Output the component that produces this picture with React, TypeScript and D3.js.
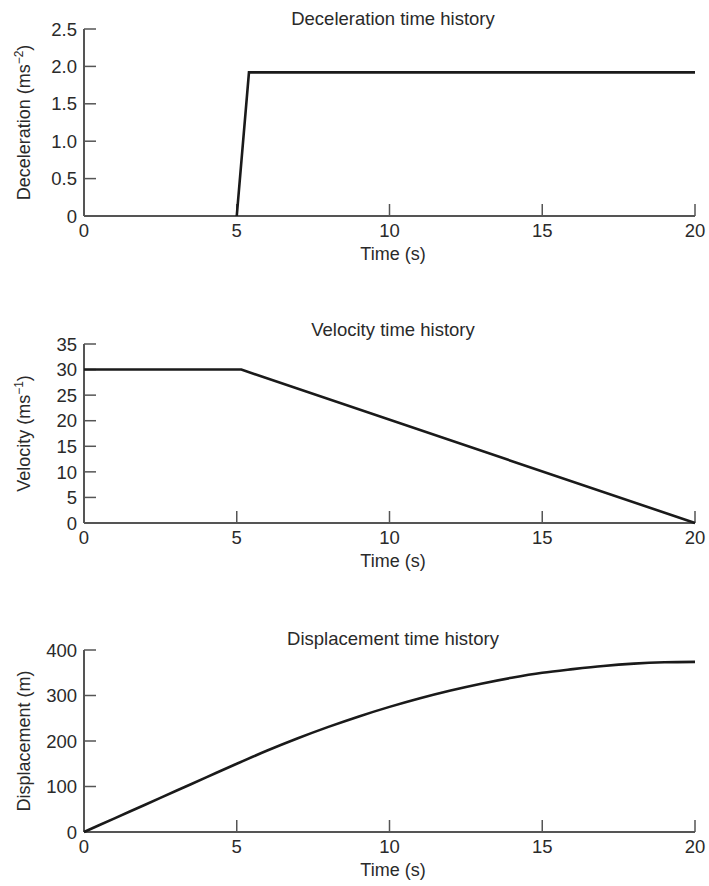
import React from "react";
import * as d3 from "d3";

const timeTicks = [0, 5, 10, 15, 20];

const decelTime = [5.0, 5.4, 20];
const decelValues = [0, 1.92, 1.92];
const decelTicks = [0, 0.5, 1.0, 1.5, 2.0, 2.5];
const decelTickLabels = ["0", "0.5", "1.0", "1.5", "2.0", "2.5"];

const velTime = [0, 5.15, 20];
const velValues = [30, 30, 0];
const velTicks = [0, 5, 10, 15, 20, 25, 30, 35];
const velTickLabels = ["0", "5", "10", "15", "20", "25", "30", "35"];

const dispTime = [0, 1, 2, 3, 4, 5, 6, 7, 8, 9, 10, 11, 12, 13, 14, 15, 16, 17, 18, 19, 20];
const dispValues = [0, 30, 60, 90, 120, 150, 179, 206, 231, 254, 275, 294, 311, 326, 339, 350, 358, 365, 370, 373, 374];
const dispTicks = [0, 100, 200, 300, 400];
const dispTickLabels = ["0", "100", "200", "300", "400"];

const FONT = "'Liberation Sans', Arial, Helvetica, sans-serif";
const TEXT = "#2a2a2a";
const AXIS = "#555";

type PanelProps = {
  title: string;
  yLabel: React.ReactNode;
  t: number[];
  v: number[];
  yTicks: number[];
  yTickLabels: string[];
  yMax: number;
  y0: number;
  y1: number;
  titleY: number;
  curve?: d3.CurveFactory;
};

const x = d3.scaleLinear().domain([0, 20]).range([84, 695]);

function Panel(p: PanelProps) {
  const y = d3.scaleLinear().domain([0, p.yMax]).range([p.y0, p.y1]);
  const pts: [number, number][] = p.t.map((tt, i) => [tt, p.v[i]]);
  const line = d3
    .line<[number, number]>()
    .x((d) => x(d[0]))
    .y((d) => y(d[1]))
    .curve(p.curve || d3.curveLinear);
  const cx = 393;
  const midY = (p.y0 + p.y1) / 2;
  return (
    <g>
      <text x={cx} y={p.titleY} textAnchor="middle" fontSize={18.5} fill={TEXT} fontFamily={FONT}>
        {p.title}
      </text>
      <line x1={x(0)} x2={x(20)} y1={y(0)} y2={y(0)} stroke={AXIS} strokeWidth={2} />
      <line x1={x(0)} x2={x(0)} y1={y(0)} y2={y(p.yMax)} stroke={AXIS} strokeWidth={2} />
      {timeTicks.map((tk) => (
        <g key={"xt" + tk}>
          {tk > 0 && (
            <line x1={x(tk)} x2={x(tk)} y1={y(0)} y2={y(0) - 12} stroke={AXIS} strokeWidth={1.5} />
          )}
          <text x={x(tk)} y={y(0) + 21} textAnchor="middle" fontSize={18.5} fill={TEXT} fontFamily={FONT}>
            {tk}
          </text>
        </g>
      ))}
      {p.yTicks.map((tk, i) => (
        <g key={"yt" + tk}>
          {tk > 0 && (
            <line x1={x(0)} x2={x(0) + 12} y1={y(tk)} y2={y(tk)} stroke={AXIS} strokeWidth={1.5} />
          )}
          <text x={77} y={y(tk)} dy="0.36em" textAnchor="end" fontSize={18.5} fill={TEXT} fontFamily={FONT}>
            {p.yTickLabels[i]}
          </text>
        </g>
      ))}
      <text x={cx} y={y(0) + 44} textAnchor="middle" fontSize={18} fill={TEXT} fontFamily={FONT}>
        Time (s)
      </text>
      <text
        transform={`translate(30,${midY}) rotate(-90)`}
        textAnchor="middle"
        fontSize={18}
        fill={TEXT}
        fontFamily={FONT}
      >
        {p.yLabel}
      </text>
      <path d={line(pts) || ""} fill="none" stroke="#1a1a1a" strokeWidth={2.6} strokeLinejoin="miter" />
    </g>
  );
}

export default function App() {
  return (
    <svg
      width={709}
      height={886}
      style={{ position: "absolute", left: 0, top: 0, background: "#fff" }}
    >
      <rect x={0} y={0} width={709} height={886} fill="#fff" />
      <Panel
        title="Deceleration time history"
        yLabel={
          <>
            Deceleration (ms
            <tspan fontSize={12} dy={-7}>−2</tspan>
            <tspan dy={7}>)</tspan>
          </>
        }
        t={decelTime}
        v={decelValues}
        yTicks={decelTicks}
        yTickLabels={decelTickLabels}
        yMax={2.5}
        y0={216}
        y1={29}
        titleY={25}
      />
      <Panel
        title="Velocity time history"
        yLabel={
          <>
            Velocity (ms
            <tspan fontSize={12} dy={-7}>−1</tspan>
            <tspan dy={7}>)</tspan>
          </>
        }
        t={velTime}
        v={velValues}
        yTicks={velTicks}
        yTickLabels={velTickLabels}
        yMax={35}
        y0={523}
        y1={344}
        titleY={336}
      />
      <Panel
        title="Displacement time history"
        yLabel="Displacement (m)"
        t={dispTime}
        v={dispValues}
        yTicks={dispTicks}
        yTickLabels={dispTickLabels}
        yMax={400}
        y0={832}
        y1={650}
        titleY={645}
        curve={d3.curveMonotoneX}
      />
    </svg>
  );
}
